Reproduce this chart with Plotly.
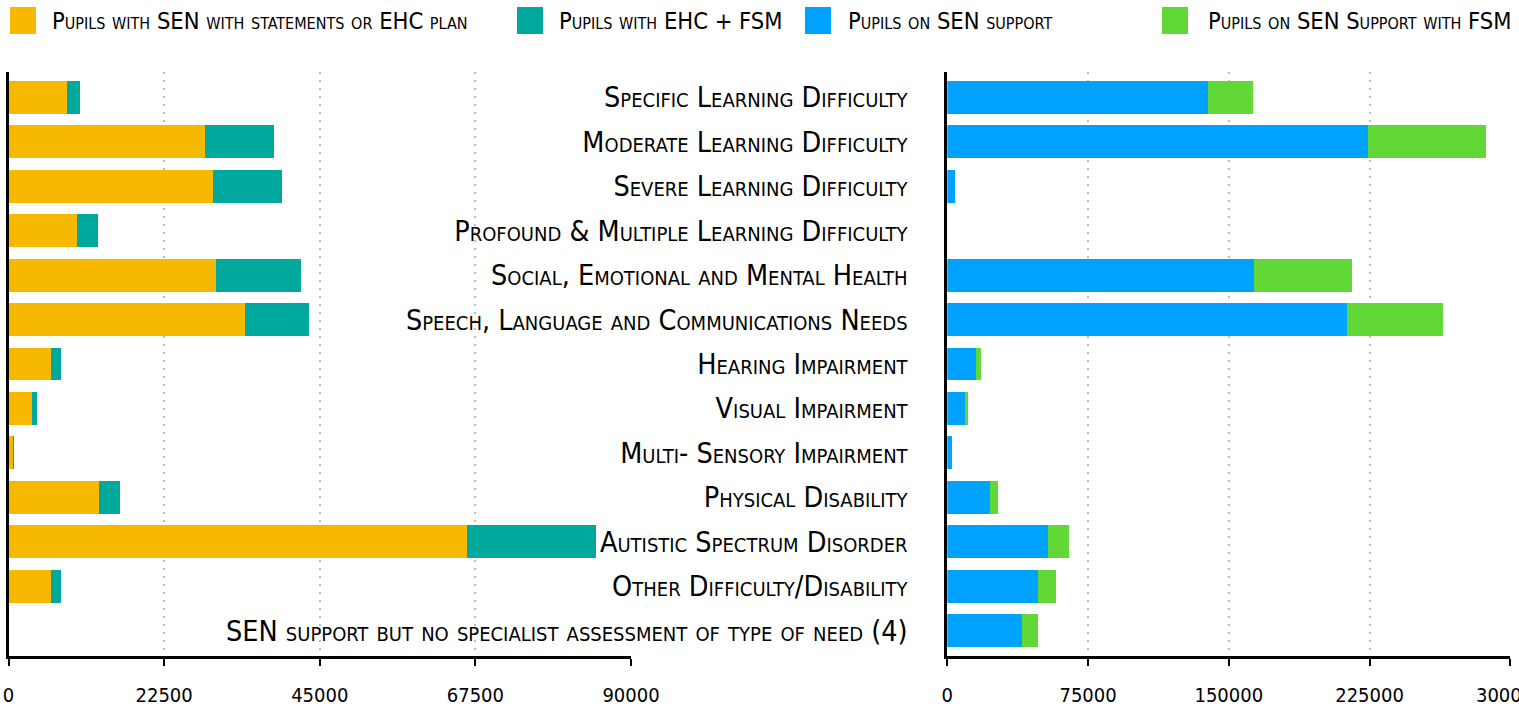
import plotly.graph_objects as go

W, H = 1519, 720

categories = [
    "Specific Learning Difficulty",
    "Moderate Learning Difficulty",
    "Severe Learning Difficulty",
    "Profound & Multiple Learning Difficulty",
    "Social, Emotional and Mental Health",
    "Speech, Language and Communications Needs",
    "Hearing Impairment",
    "Visual Impairment",
    "Multi- Sensory Impairment",
    "Physical Disability",
    "Autistic Spectrum Disorder",
    "Other Difficulty/Disability",
    "SEN support but no specialist assessment of type of need (4)",
]

sen_statement = [8470, 28430, 29590, 9910, 30030, 34220, 6140, 3420, 640, 13110, 66350, 6140, 0]
ehc_fsm = [1880, 9990, 9990, 3040, 12300, 9260, 1490, 710, 60, 3040, 18520, 1490, 0]
sen_support = [138800, 224200, 4100, 0, 163500, 213000, 15300, 9950, 2500, 22700, 53600, 48300, 39700]
sen_support_fsm = [24100, 62900, 0, 0, 52200, 51200, 2650, 1060, 0, 4250, 11150, 9550, 8500]

series_names = [
    "Pupils with SEN with statements or EHC plan",
    "Pupils with EHC + FSM",
    "Pupils on SEN support",
    "Pupils on SEN Support with FSM",
]
colors = ["#F7B900", "#00A89D", "#00A2FF", "#61D836"]

left_ticks = [0, 22500, 45000, 67500, 90000]
right_ticks = [0, 75000, 150000, 225000, 300000]

FONT = "DejaVu Sans Condensed, DejaVu Sans, sans-serif"

fig = go.Figure()
for vals, name, col in [(sen_statement, series_names[0], colors[0]), (ehc_fsm, series_names[1], colors[1])]:
    fig.add_trace(go.Bar(x=vals, y=categories, orientation="h", name=name,
                         marker=dict(color=col, line=dict(width=0)),
                         xaxis="x", yaxis="y", showlegend=False))
for vals, name, col in [(sen_support, series_names[2], colors[2]), (sen_support_fsm, series_names[3], colors[3])]:
    fig.add_trace(go.Bar(x=vals, y=categories, orientation="h", name=name,
                         marker=dict(color=col, line=dict(width=0)),
                         xaxis="x2", yaxis="y2", showlegend=False))

ydom = [1 - 656 / H, 1 - 72 / H]
yrange = [len(categories) - 1 + 0.57, -0.57]

common_x = dict(
    showline=True, linecolor="black", linewidth=3,
    ticks="outside", ticklen=7, tickwidth=2, tickcolor="black",
    showgrid=True, gridcolor="#bdbdbd", gridwidth=2, griddash="2px,6px",
    zeroline=False, tickfont=dict(family=FONT, size=20, color="black"),
    ticklabelstandoff=12, ticklabeloverflow="allow", fixedrange=True,
    automargin=False,
)

fig.update_layout(
    width=W, height=H,
    margin=dict(l=0, r=0, t=0, b=0, autoexpand=False),
    paper_bgcolor="white", plot_bgcolor="white",
    barmode="stack", bargap=0.26,
    showlegend=False,
    xaxis=dict(domain=[8.5 / W, 631 / W], range=[0, 90000], anchor="y",
               tickvals=left_ticks, ticktext=[str(v) for v in left_ticks], **common_x),
    xaxis2=dict(domain=[947.3 / W, 1510.3 / W], range=[0, 300000], anchor="y2",
                tickvals=right_ticks, ticktext=[str(v) for v in right_ticks], **common_x),
    yaxis=dict(domain=ydom, range=yrange, type="category", anchor="x",
               showline=True, linecolor="black", linewidth=3, automargin=False,
               showticklabels=False, ticks="", showgrid=False, zeroline=False, fixedrange=True),
    yaxis2=dict(domain=ydom, range=yrange, type="category", anchor="x2",
                showline=True, linecolor="black", linewidth=3, automargin=False,
                ticks="", showgrid=False, zeroline=False, fixedrange=True,
                ticklabelstandoff=31,
                tickfont=dict(family=FONT, size=28.5, color="black", variant="small-caps")),
)

# custom legend with large swatches
legend_items = [(10, 50), (517, 557), (805, 846), (1162, 1206)]
for (sx, tx), name, col in zip(legend_items, series_names, colors):
    fig.add_shape(type="rect", xref="paper", yref="paper",
                  x0=sx / W, x1=(sx + 26) / W, y0=1 - 34 / H, y1=1 - 7 / H,
                  fillcolor=col, line=dict(width=0))
    fig.add_annotation(xref="paper", yref="paper", x=tx / W, y=1 - 20.5 / H,
                       text=name, showarrow=False, xanchor="left", yanchor="middle",
                       font=dict(family=FONT, size=23.5, color="black", variant="small-caps"))

fig.write_html("out.html", config={"displayModeBar": False},
               post_script="document.body.style.margin='0';document.body.style.overflow='hidden';")
